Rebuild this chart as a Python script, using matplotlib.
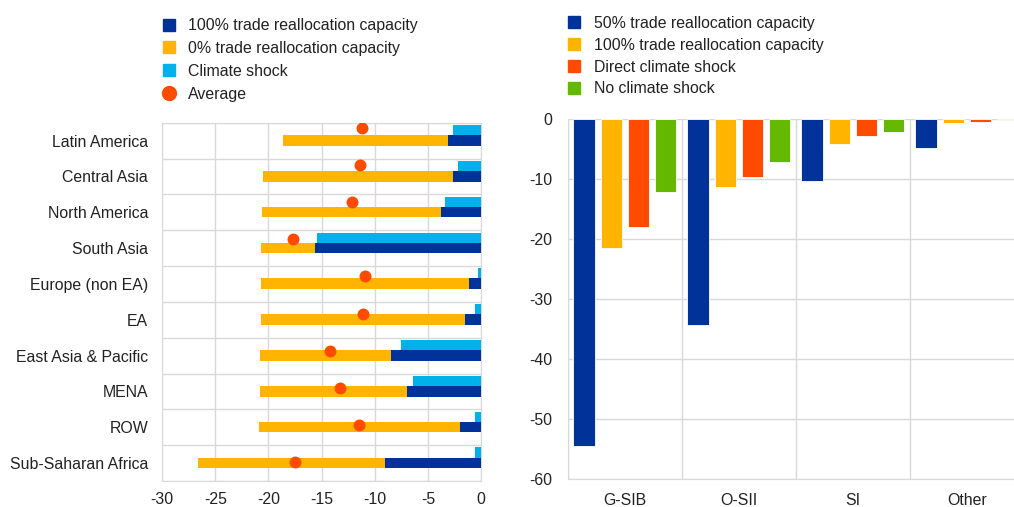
import matplotlib
matplotlib.use("Agg")
import matplotlib.pyplot as plt
from matplotlib.lines import Line2D
import numpy as np

plt.rcParams['font.family'] = ['Liberation Sans', 'DejaVu Sans']
plt.rcParams['axes.unicode_minus'] = False

# Left panel: regional impact
regions = ["Latin America", "Central Asia", "North America", "South Asia",
           "Europe (non EA)", "EA", "East Asia & Pacific", "MENA", "ROW",
           "Sub-Saharan Africa"]
realloc_100 = [-3.1, -2.6, -3.8, -15.6, -1.1, -1.5, -8.5, -7.0, -2.0, -9.0]
realloc_0 = [-18.6, -20.5, -20.6, -20.7, -20.7, -20.7, -20.8, -20.8, -20.9, -26.6]
climate_shock = [-2.6, -2.2, -3.4, -15.4, -0.25, -0.6, -7.5, -6.4, -0.6, -0.6]
average = [-11.2, -11.4, -12.1, -17.7, -10.9, -11.1, -14.2, -13.3, -11.5, -17.5]

# Right panel: bank categories
bank_types = ["G-SIB", "O-SII", "SI", "Other"]
cap_50 = [-54.5, -34.4, -10.4, -4.9]
cap_100 = [-21.5, -11.4, -4.1, -0.6]
direct_shock = [-18.0, -9.6, -2.9, -0.5]
no_shock = [-12.2, -7.2, -2.1, -0.2]

DARK = "#003299"
YELLOW = "#FFB400"
LIGHT = "#00B1EA"
RED = "#FF4B00"
GREEN = "#65B800"
GRID = "#d9d9d9"
TXT = "#222222"
FS = 11.4

fig = plt.figure(figsize=(10.14, 5.07), dpi=100)

# ---------- left panel ----------
ax = fig.add_axes([0.1598, 0.0513, 0.3146, 0.7067])
y = np.arange(len(regions))
ax.barh(y - 0.295, climate_shock, height=0.28, color=LIGHT, zorder=3)
ax.barh(y - 0.005, realloc_0, height=0.30, color=YELLOW, zorder=3)
ax.barh(y - 0.005, realloc_100, height=0.30, color=DARK, zorder=4)
ax.set_xlim(-30, 0)
ax.set_ylim(len(regions) - 0.5, -0.5)
ax.set_xticks(np.arange(-30, 1, 5))
ax.set_yticks(y)
ax.set_yticklabels(regions)
ax.set_yticks(np.arange(-0.5, len(regions), 1), minor=True)
ax.grid(axis='x', color=GRID, lw=1, zorder=0)
ax.grid(axis='y', which='minor', color=GRID, lw=1, zorder=0)
ax.tick_params(axis='both', which='both', length=0, labelsize=FS, colors=TXT)
ax.tick_params(axis='y', pad=10)
ax.tick_params(axis='x', pad=8)
for s in ax.spines.values():
    s.set_color(GRID)

# averages on a secondary vertical scale
ax2 = ax.twinx()
ax2.plot(average, y, 'o', color=RED, ms=8.6, mec='none', zorder=5)
ax2.set_ylim(9.502, -0.1345)
ax2.set_yticks([])
for s in ax2.spines.values():
    s.set_visible(False)

h_left = [Line2D([], [], marker='s', ls='none', color=DARK, ms=9),
          Line2D([], [], marker='s', ls='none', color=YELLOW, ms=9),
          Line2D([], [], marker='s', ls='none', color=LIGHT, ms=9),
          Line2D([], [], marker='o', ls='none', color=RED, ms=10)]
fig.legend(h_left, ["100% trade reallocation capacity", "0% trade reallocation capacity",
                    "Climate shock", "Average"],
           loc='upper left', bbox_to_anchor=(0.149, 0.983), frameon=False,
           fontsize=FS, handlelength=1.0, handletextpad=0.75, labelspacing=0.5,
           labelcolor=TXT, borderaxespad=0.2)

# ---------- right panel ----------
bx = fig.add_axes([0.5599, 0.0552, 0.4497, 0.7101])
x = np.arange(len(bank_types))
w = 0.187
step = 0.238
series = [(cap_50, DARK), (cap_100, YELLOW), (direct_shock, RED), (no_shock, GREEN)]
for k, (vals, col) in enumerate(series):
    bx.bar(x + (k - 1.5) * step, vals, width=w, color=col,
           edgecolor='white', linewidth=0.6, zorder=3)
bx.set_xlim(-0.5, len(bank_types) - 0.5)
bx.set_ylim(-60, 0)
bx.set_yticks(np.arange(-60, 1, 10))
bx.set_xticks(x)
bx.set_xticklabels(bank_types)
bx.set_xticks(np.arange(-0.5, len(bank_types), 1), minor=True)
bx.grid(axis='y', color=GRID, lw=1, zorder=0)
bx.grid(axis='x', which='minor', color=GRID, lw=1, zorder=0)
bx.tick_params(axis='both', which='both', length=0, labelsize=FS, colors=TXT)
bx.tick_params(axis='y', pad=11)
bx.tick_params(axis='x', pad=10)
for s in bx.spines.values():
    s.set_color(GRID)
bx.spines['top'].set_visible(False)

h_right = [Line2D([], [], marker='s', ls='none', color=c, ms=9)
           for c in (DARK, YELLOW, RED, GREEN)]
fig.legend(h_right, ["50% trade reallocation capacity", "100% trade reallocation capacity",
                     "Direct climate shock", "No climate shock"],
           loc='upper left', bbox_to_anchor=(0.549, 0.988), frameon=False,
           fontsize=FS, handlelength=1.0, handletextpad=0.75, labelspacing=0.44,
           labelcolor=TXT, borderaxespad=0.2)

fig.savefig("out.png", dpi=100)
